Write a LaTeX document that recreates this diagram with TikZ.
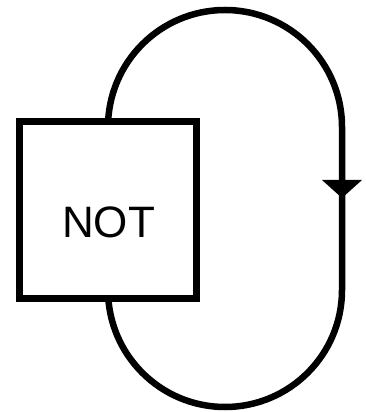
\documentclass[tikz,border=0pt]{standalone}
\usepackage{fontspec}
\setmainfont{Liberation Sans}
\usetikzlibrary{arrows.meta, backgrounds}

\begin{document}
\begin{tikzpicture}[
    x=1pt, y=1pt,
    gate/.style={rectangle, draw=black, fill=white, line width=7pt, minimum width=177pt, minimum height=177pt, inner sep=0pt},
    gatelabel/.style={inner sep=0pt, font=\fontsize{44}{44}\selectfont},
    loop/.style={line width=6.5pt, black}
]
\useasboundingbox (0,0) rectangle (366,412);

% Gate
\node[gate] (gate) at (108,202) {};
\node[gatelabel] (label) at (108.5,190) {NOT};

% Feedback loop
\begin{scope}[on background layer]
\draw[loop] (gate.north) -- ++(0,-9) arc[start angle=180, end angle=0, radius=117] coordinate (rtop)
    -- ++(0,-163) arc[start angle=0, end angle=-180, radius=117] -- (gate.south);
\end{scope}
\draw[loop, -{Triangle[width=40pt, length=18pt, line width=0pt]}] (rtop) -- ++(0,-71) coordinate (tip);
\end{tikzpicture}
\end{document}
